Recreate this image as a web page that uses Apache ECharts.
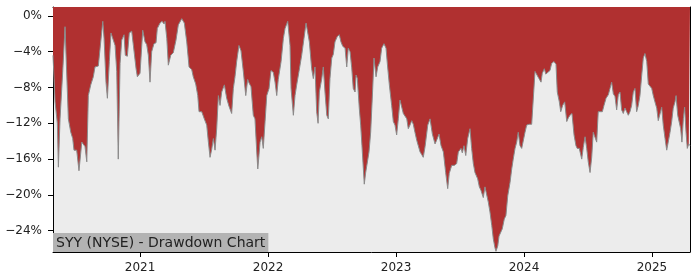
<!DOCTYPE html>
<html>
<head>
<meta charset="utf-8">
<script src="https://cdn.jsdelivr.net/npm/echarts@6/dist/echarts.min.js"></script>
<style>html,body{margin:0;padding:0;background:#fff}#c{width:700px;height:280px}</style>
</head>
<body>
<div id="c"></div>
<script>
// Dates as decimal years, drawdown in percent
const years = [
2020.320,2020.336,2020.344,2020.354,2020.362,2020.375,2020.396,2020.414,2020.427,2020.440,
2020.459,2020.474,2020.484,2020.505,2020.523,2020.545,2020.557,2020.570,2020.584,2020.596,
2020.615,2020.635,2020.648,2020.674,2020.688,2020.709,2020.719,2020.734,2020.745,2020.760,
2020.773,2020.787,2020.805,2020.818,2020.830,2020.844,2020.857,2020.875,2020.885,2020.901,
2020.916,2020.935,2020.948,2020.969,2020.979,2021.000,2021.021,2021.039,2021.052,2021.065,
2021.078,2021.091,2021.109,2021.125,2021.135,2021.156,2021.172,2021.188,2021.195,2021.209,
2021.221,2021.240,2021.260,2021.281,2021.299,2021.326,2021.346,2021.365,2021.383,2021.404,
2021.416,2021.435,2021.451,2021.461,2021.482,2021.502,2021.521,2021.534,2021.547,2021.560,
2021.573,2021.586,2021.599,2021.612,2021.625,2021.638,2021.659,2021.677,2021.695,2021.716,
2021.729,2021.742,2021.755,2021.773,2021.789,2021.807,2021.826,2021.841,2021.852,2021.867,
2021.885,2021.898,2021.912,2021.920,2021.938,2021.951,2021.963,2021.977,2021.990,2022.008,
2022.023,2022.041,2022.055,2022.068,2022.080,2022.102,2022.120,2022.133,2022.154,2022.164,
2022.172,2022.180,2022.198,2022.211,2022.224,2022.242,2022.250,2022.263,2022.281,2022.297,
2022.307,2022.323,2022.341,2022.354,2022.367,2022.380,2022.391,2022.401,2022.420,2022.432,
2022.445,2022.459,2022.471,2022.484,2022.498,2022.510,2022.523,2022.541,2022.557,2022.570,
2022.584,2022.602,2022.615,2022.627,2022.641,2022.654,2022.666,2022.680,2022.688,2022.698,
2022.713,2022.724,2022.734,2022.745,2022.752,2022.763,2022.776,2022.789,2022.802,2022.818,
2022.828,2022.844,2022.857,2022.875,2022.888,2022.906,2022.922,2022.932,2022.948,2022.966,
2022.979,2022.992,2023.005,2023.018,2023.031,2023.045,2023.057,2023.070,2023.084,2023.096,
2023.109,2023.123,2023.135,2023.148,2023.162,2023.174,2023.188,2023.201,2023.213,2023.227,
2023.248,2023.266,2023.284,2023.305,2023.320,2023.336,2023.352,2023.370,2023.388,2023.404,
2023.416,2023.435,2023.455,2023.474,2023.487,2023.508,2023.518,2023.531,2023.545,2023.560,
2023.578,2023.591,2023.604,2023.617,2023.638,2023.651,2023.664,2023.682,2023.695,2023.709,
2023.721,2023.734,2023.748,2023.760,2023.773,2023.781,2023.795,2023.805,2023.820,2023.830,
2023.846,2023.859,2023.873,2023.891,2023.904,2023.916,2023.930,2023.943,2023.955,2023.969,
2023.982,2023.995,2024.008,2024.021,2024.039,2024.060,2024.073,2024.086,2024.099,2024.117,
2024.133,2024.143,2024.159,2024.170,2024.185,2024.203,2024.216,2024.234,2024.250,2024.260,
2024.276,2024.287,2024.302,2024.318,2024.334,2024.346,2024.359,2024.375,2024.391,2024.406,
2024.416,2024.432,2024.451,2024.463,2024.477,2024.490,2024.502,2024.516,2024.529,2024.541,
2024.555,2024.568,2024.580,2024.594,2024.612,2024.625,2024.641,2024.659,2024.672,2024.685,
2024.698,2024.711,2024.724,2024.737,2024.750,2024.763,2024.776,2024.789,2024.802,2024.815,
2024.828,2024.841,2024.854,2024.867,2024.880,2024.893,2024.906,2024.920,2024.932,2024.945,
2024.959,2024.971,2024.984,2024.998,2025.010,2025.023,2025.037,2025.049,2025.063,2025.076,
2025.088,2025.102,2025.115,2025.127,2025.141,2025.154,2025.166,2025.180,2025.188,2025.201,
2025.213,2025.224,2025.234,2025.245,2025.255,2025.266,2025.276,2025.287,2025.297
];
const drawdown = [
-4.4,-9.6,-9.8,-12.0,-16.9,-11.5,-6.2,-1.2,-1.0,-11.5,
-13.0,-13.7,-15.0,-15.0,-17.3,-14.1,-14.1,-14.6,-16.3,-8.9,
-7.7,-6.8,-5.7,-5.6,-3.6,-0.6,-2.5,-7.4,-9.2,-5.1,
-1.9,-2.0,-3.3,-6.2,-16.0,-5.3,-2.7,-2.1,-4.4,-4.5,
-1.9,-1.7,-3.3,-5.9,-6.8,-6.4,-1.6,-2.9,-3.2,-4.4,
-7.4,-4.0,-3.1,-3.0,-1.4,-0.8,-0.6,-0.9,-0.6,-2.5,
-5.5,-4.4,-4.1,-2.7,-1.0,-0.3,-0.8,-2.9,-5.7,-6.0,
-6.8,-7.6,-8.9,-10.7,-10.7,-11.5,-12.2,-14.1,-15.8,-14.9,
-13.7,-15.0,-12.6,-8.9,-10.0,-8.5,-7.7,-9.2,-10.1,-10.9,
-8.1,-6.8,-5.1,-3.3,-3.9,-6.2,-8.9,-7.1,-7.5,-7.9,
-11.1,-11.5,-15.2,-17.1,-14.1,-13.5,-14.8,-11.8,-8.9,-8.1,
-6.1,-6.3,-7.4,-8.9,-7.1,-5.1,-2.5,-1.4,-0.6,-0.8,
-3.3,-8.1,-11.1,-8.9,-7.7,-6.2,-6.4,-4.4,-2.5,-0.8,
-0.6,-2.9,-5.9,-7.0,-5.7,-10.7,-12.0,-8.5,-7.0,-5.7,
-8.5,-11.1,-11.5,-7.0,-4.7,-4.3,-2.9,-2.3,-2.1,-2.9,
-3.4,-3.6,-5.7,-3.6,-4.0,-5.8,-8.1,-8.5,-6.6,-7.0,
-10.3,-12.2,-14.5,-17.1,-18.8,-17.5,-17.5,-15.2,-13.0,-8.1,
-4.7,-6.8,-5.7,-5.1,-3.6,-3.1,-3.6,-5.3,-7.7,-10.0,
-11.8,-12.2,-13.3,-11.5,-9.4,-9.6,-10.9,-11.1,-11.5,-12.6,
-12.2,-11.7,-12.1,-13.0,-13.9,-14.1,-15.2,-15.5,-15.8,-14.6,
-12.2,-11.5,-13.2,-14.3,-13.8,-13.2,-14.5,-15.2,-17.5,-19.3,
-17.6,-16.7,-16.7,-16.5,-15.2,-14.8,-15.3,-14.5,-15.6,-13.7,
-12.6,-14.8,-16.5,-17.5,-18.2,-19.1,-19.5,-20.3,-19.1,-19.0,
-20.8,-21.9,-23.4,-24.9,-25.9,-26.3,-25.7,-24.6,-24.4,-23.8,
-22.7,-22.3,-20.1,-18.6,-17.1,-16.0,-14.8,-14.1,-13.0,-14.5,
-14.8,-14.8,-13.0,-12.2,-12.1,-12.1,-12.1,-6.2,-6.0,-7.0,
-7.4,-6.4,-5.9,-6.5,-6.3,-6.1,-5.3,-5.1,-5.4,-8.5,
-9.6,-10.7,-10.0,-9.6,-11.8,-11.4,-11.1,-10.9,-13.3,-14.5,
-14.8,-14.8,-16.0,-14.7,-13.5,-14.8,-16.3,-17.5,-15.8,-13.0,
-13.2,-14.1,-10.7,-10.5,-10.7,-10.0,-9.2,-8.8,-8.1,-7.4,
-8.7,-9.0,-10.5,-8.8,-8.5,-10.5,-10.9,-10.3,-10.7,-11.1,
-10.7,-10.0,-8.5,-8.1,-10.7,-10.0,-8.9,-6.6,-4.7,-4.2,
-5.1,-7.6,-7.8,-8.1,-8.9,-9.6,-10.3,-11.7,-11.5,-10.2,
-12.2,-13.7,-15.0,-15.0,-13.0,-11.8,-10.3,-9.6,-8.9,-11.1,
-11.1,-12.6,-14.1,-11.5,-10.2,-13.0,-14.8,-14.3,-14.5
];
const xTicks = [2021, 2022, 2023, 2024, 2025];
const yTicks = [-24, -20, -16, -12, -8, -4, 0];
const titleText = 'SYY (NYSE) - Drawdown Chart';

const xMin = 2020.320, xMax = 2025.297, yMin = -26.38, yMax = 1.0;
const seriesData = years.map((y, i) => [y, drawdown[i]]);
const font = '"DejaVu Sans", sans-serif';

const chart = echarts.init(document.getElementById('c'), null, {renderer: 'canvas'});
chart.setOption({
  animation: false,
  backgroundColor: '#ffffff',
  grid: {left: 53, right: 10, top: 7, bottom: 28, show: true, backgroundColor: '#ececec', borderWidth: 0},
  title: {
    text: titleText, left: 53, bottom: 28, padding: [3, 3, 2, 3],
    backgroundColor: '#b3b3b3',
    textStyle: {fontFamily: font, fontSize: 14, lineHeight: 14, fontWeight: 'normal', color: '#222'}
  },
  xAxis: [{
    type: 'value', min: xMin, max: xMax, position: 'bottom',
    splitLine: {show: false},
    axisLine: {show: true, onZero: false, lineStyle: {color: '#000', width: 1}},
    axisTick: {show: true, length: 5, lineStyle: {color: '#000'}, customValues: xTicks},
    axisLabel: {customValues: xTicks, formatter: v => String(Math.round(v)), color: '#222', fontFamily: font, fontSize: 12, margin: 10}
  }, {
    type: 'value', min: xMin, max: xMax, position: 'top',
    splitLine: {show: false}, axisTick: {show: false}, axisLabel: {show: false},
    axisLine: {show: true, onZero: false, lineStyle: {color: '#000', width: 1}}
  }],
  yAxis: [{
    type: 'value', min: yMin, max: yMax, position: 'left',
    splitLine: {show: false},
    axisLine: {show: true, onZero: false, lineStyle: {color: '#000', width: 1}},
    axisTick: {show: true, length: 5, lineStyle: {color: '#000'}, customValues: yTicks},
    axisLabel: {customValues: yTicks, formatter: v => (v < 0 ? '\u2212' + Math.abs(v) : String(v)) + '%', color: '#222', fontFamily: font, fontSize: 12, margin: 11}
  }, {
    type: 'value', min: yMin, max: yMax, position: 'right',
    splitLine: {show: false}, axisTick: {show: false}, axisLabel: {show: false},
    axisLine: {show: true, onZero: false, lineStyle: {color: '#000', width: 1}}
  }],
  series: [{
    type: 'line', data: seriesData, xAxisIndex: 0, yAxisIndex: 0,
    showSymbol: false, smooth: false,
    lineStyle: {color: '#8a8a8a', width: 1},
    areaStyle: {color: '#b03030', opacity: 1, origin: 'end'},
    z: 1
  }]
});
</script>
</body>
</html>
